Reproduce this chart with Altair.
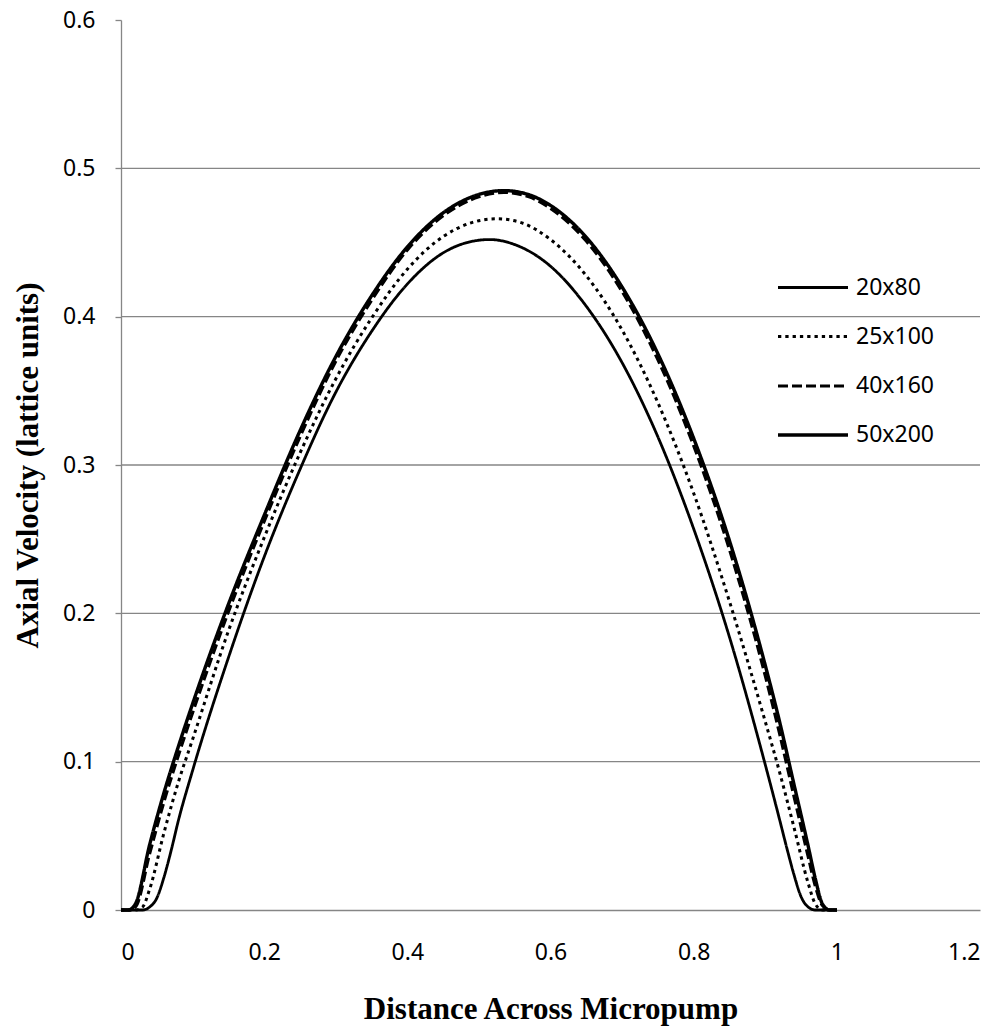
import altair as alt
import pandas as pd

series_names = ["20x80", "25x100", "40x160", "50x200"]

x_20x80 = [0, 0.03, 0.04, 0.05, 0.06, 0.07, 0.08, 0.10, 0.15, 0.20, 0.25, 0.30, 0.35, 0.40, 0.45,
           0.48, 0.515, 0.55, 0.60, 0.65, 0.70, 0.75, 0.80, 0.85, 0.90, 0.92, 0.93, 0.94, 0.95, 0.96, 0.97, 1.00]
y_20x80 = [0, 0, 0.002, 0.008, 0.022, 0.040, 0.060, 0.094, 0.170, 0.238, 0.297, 0.349, 0.390, 0.422, 0.443,
           0.4495, 0.452, 0.4486, 0.434, 0.407, 0.369, 0.319, 0.257, 0.184, 0.098, 0.061, 0.042, 0.024, 0.009, 0.002, 0, 0]

x_25x100 = [0, 0.02, 0.03, 0.04, 0.06, 0.08, 0.10, 0.15, 0.20, 0.25, 0.30, 0.35, 0.40, 0.45, 0.49,
            0.525, 0.56, 0.60, 0.65, 0.70, 0.75, 0.80, 0.85, 0.90, 0.92, 0.94, 0.96, 0.97, 0.98, 1.00]
y_25x100 = [0, 0, 0.002, 0.014, 0.052, 0.086, 0.115, 0.188, 0.251, 0.308, 0.358, 0.399, 0.432, 0.454, 0.4634,
            0.466, 0.4632, 0.452, 0.4276, 0.391, 0.342, 0.281, 0.208, 0.127, 0.093, 0.056, 0.018, 0.004, 0, 0]

x_40x160 = [0, 0.01, 0.02, 0.04, 0.06, 0.08, 0.10, 0.15, 0.20, 0.25, 0.30, 0.35, 0.40, 0.45, 0.50,
            0.535, 0.57, 0.60, 0.65, 0.70, 0.75, 0.80, 0.85, 0.90, 0.92, 0.94, 0.96, 0.97, 0.98, 0.99, 1.00]
y_40x160 = [0, 0, 0.002, 0.038, 0.073, 0.104, 0.133, 0.201, 0.262, 0.319, 0.370, 0.411, 0.445, 0.468, 0.4808,
            0.4838, 0.4808, 0.473, 0.451, 0.417, 0.371, 0.313, 0.243, 0.158, 0.119, 0.077, 0.036, 0.016, 0.003, 0, 0]

x_50x200 = [0, 0.01, 0.02, 0.04, 0.06, 0.08, 0.10, 0.15, 0.20, 0.25, 0.30, 0.35, 0.40, 0.45, 0.50,
            0.535, 0.57, 0.60, 0.65, 0.70, 0.75, 0.80, 0.85, 0.90, 0.92, 0.94, 0.96, 0.97, 0.98, 0.99, 1.00]
y_50x200 = [0, 0, 0.004, 0.044, 0.079, 0.110, 0.139, 0.206, 0.266, 0.323, 0.373, 0.414, 0.447, 0.470, 0.4824,
            0.485, 0.4822, 0.475, 0.4535, 0.420, 0.375, 0.318, 0.249, 0.165, 0.127, 0.085, 0.043, 0.021, 0.004, 0, 0]

x_ticks = [0, 0.2, 0.4, 0.6, 0.8, 1.0, 1.2]
y_ticks = [0, 0.1, 0.2, 0.3, 0.4, 0.5, 0.6]
grid_values = [0.1, 0.2, 0.3, 0.4, 0.5]

rows = []
for name, xs, ys in [("20x80", x_20x80, y_20x80), ("25x100", x_25x100, y_25x100),
                     ("40x160", x_40x160, y_40x160), ("50x200", x_50x200, y_50x200)]:
    for xv, yv in zip(xs, ys):
        rows.append({"series": name, "x": xv, "y": yv, "order": series_names.index(name)})
df = pd.DataFrame(rows)

xscale = alt.Scale(domain=[0, 1.2], nice=False, zero=False)
yscale = alt.Scale(domain=[0, 0.6], nice=False)

y_axis = alt.Axis(values=y_ticks, format=".1~f", title="Axial Velocity (lattice units)",
                  grid=False, ticks=True, tickSize=6, tickColor="#868686", tickWidth=1.3,
                  labelPadding=20, titlePadding=18, labelFontSize=23, labelFont="Noto Sans",
                  labelColor="black",
                  domainColor="#868686", domainWidth=1.3)
x_axis = alt.Axis(values=x_ticks, format=".1~f", title="Distance Across Micropump",
                  grid=False, ticks=False, labelPadding=31, titlePadding=30,
                  labelFontSize=23, labelFont="Noto Sans", labelColor="black",
                  domainColor="#868686", domainWidth=1.3)

grid = alt.Chart(pd.DataFrame({"g": grid_values})).mark_rule(
    color="#868686", strokeWidth=1.3
).encode(y=alt.Y("g:Q", scale=yscale, axis=y_axis))

lines = alt.Chart(df).mark_line(interpolate="monotone", color="black", strokeCap="butt").encode(
    x=alt.X("x:Q", scale=xscale, axis=x_axis),
    y=alt.Y("y:Q", scale=yscale, axis=y_axis),
    strokeDash=alt.StrokeDash("series:N",
                              scale=alt.Scale(domain=series_names,
                                              range=[[1, 0], [3.3, 4], [10, 4], [1, 0]]),
                              legend=alt.Legend(title=None, orient="none", legendX=655, legendY=231,
                                                symbolType="stroke", symbolSize=4900,
                                                labelFontSize=23, labelFont="Noto Sans",
                                                labelColor="black", rowPadding=-1, labelOffset=6,
                                                symbolStrokeColor="black")),
    strokeWidth=alt.StrokeWidth("series:N",
                                scale=alt.Scale(domain=series_names, range=[2.8, 3.4, 4, 4]),
                                legend=alt.Legend(title=None, orient="none", legendX=655, legendY=231)),
    order="order:Q",
)

chart = alt.layer(grid, lines).properties(
    width=859, height=890,
    padding={"left": 121, "top": 20, "right": 21, "bottom": 120},
    autosize=alt.AutoSizeParams(type="none"),
).configure_view(stroke=None).configure_axis(
    titleFont="Liberation Serif", titleFontSize=31, titleFontWeight="bold", titleColor="black",
)

chart.save("out.html", embed_options={"renderer": "svg", "actions": False})
